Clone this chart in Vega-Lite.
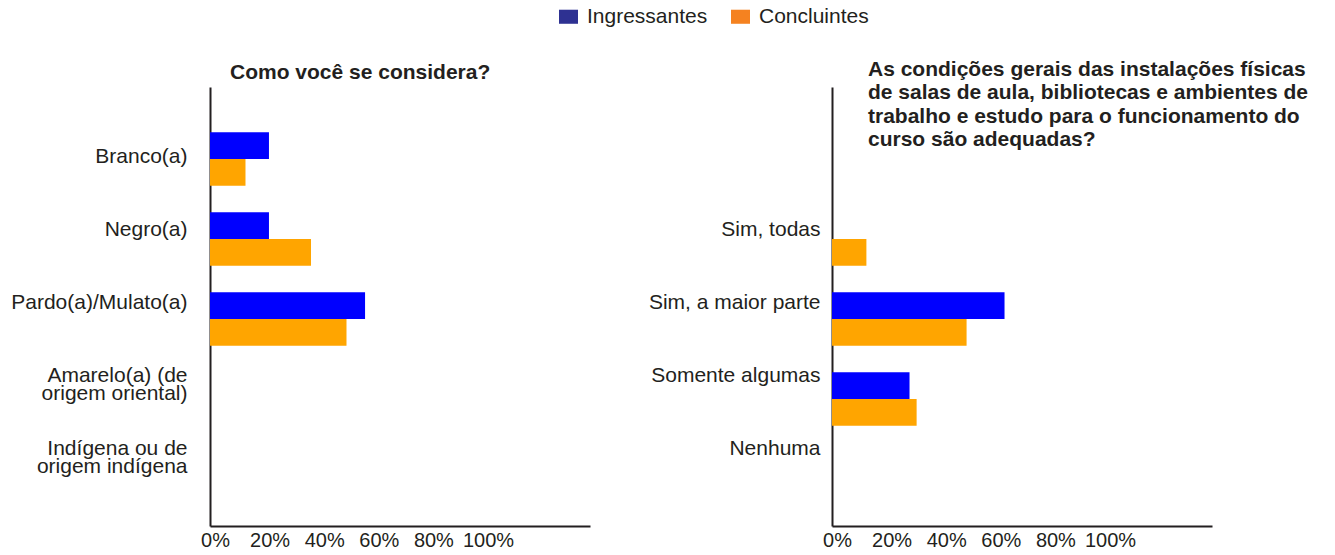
{
  "$schema": "https://vega.github.io/schema/vega-lite/v6.json",
  "background": "white",
  "padding": {"left": 10, "top": 6, "right": 5, "bottom": 2},
  "datasets": {
    "racial": [
      {"categoria": "Branco(a)", "grupo": "Ingressantes", "valor": 21.6},
      {"categoria": "Branco(a)", "grupo": "Concluintes", "valor": 13.0},
      {"categoria": "Negro(a)", "grupo": "Ingressantes", "valor": 21.6},
      {"categoria": "Negro(a)", "grupo": "Concluintes", "valor": 37.0},
      {"categoria": "Pardo(a)/Mulato(a)", "grupo": "Ingressantes", "valor": 56.8},
      {"categoria": "Pardo(a)/Mulato(a)", "grupo": "Concluintes", "valor": 50.0},
      {"categoria": "Amarelo(a) (de\norigem oriental)", "grupo": "Ingressantes", "valor": 0},
      {"categoria": "Amarelo(a) (de\norigem oriental)", "grupo": "Concluintes", "valor": 0},
      {"categoria": "Indígena ou de\norigem indígena", "grupo": "Ingressantes", "valor": 0},
      {"categoria": "Indígena ou de\norigem indígena", "grupo": "Concluintes", "valor": 0}
    ],
    "instalacoes": [
      {"categoria": "Sim, todas", "grupo": "Ingressantes", "valor": 0},
      {"categoria": "Sim, todas", "grupo": "Concluintes", "valor": 12.6},
      {"categoria": "Sim, a maior parte", "grupo": "Ingressantes", "valor": 63.2},
      {"categoria": "Sim, a maior parte", "grupo": "Concluintes", "valor": 49.3},
      {"categoria": "Somente algumas", "grupo": "Ingressantes", "valor": 28.4},
      {"categoria": "Somente algumas", "grupo": "Concluintes", "valor": 31.0},
      {"categoria": "Nenhuma", "grupo": "Ingressantes", "valor": 0},
      {"categoria": "Nenhuma", "grupo": "Concluintes", "valor": 0}
    ]
  },
  "config": {
    "font": "Liberation Sans",
    "view": {"stroke": null},
    "axis": {
      "domainColor": "#231F20",
      "domainWidth": 2,
      "ticks": false,
      "grid": false,
      "labelColor": "#231F20",
      "labelFont": "Liberation Sans",
      "title": null
    },
    "title": {
      "font": "Liberation Sans",
      "fontSize": 21,
      "fontWeight": "bold",
      "color": "#231F20",
      "anchor": "start",
      "frame": "group",
      "lineHeight": 23.3
    }
  },
  "spacing": 58,
  "hconcat": [
    {
      "width": 380,
      "height": 439,
      "data": {"name": "racial"},
      "title": {"text": "Como você se considera?", "dx": 20, "offset": 4},
      "resolve": {"scale": {"y": "independent"}, "axis": {"y": "independent"}},
      "layer": [
        {
          "mark": {"type": "bar"},
          "encoding": {
            "y": {
              "field": "categoria",
              "type": "nominal",
              "scale": {
                "domain": ["Branco(a)", "Negro(a)", "Pardo(a)/Mulato(a)", "Amarelo(a) (de\norigem oriental)", "Indígena ou de\norigem indígena"],
                "paddingInner": 0.333,
                "paddingOuter": 0.41,
                "align": 0.69
              },
              "axis": null
            },
            "x": {
              "field": "valor",
              "type": "quantitative",
              "scale": {"domain": [0, 139.2], "nice": false},
              "axis": {
                "values": [0, 20, 40, 60, 80, 100],
                "labelExpr": "datum.value + '%'",
                "labelFontSize": 20,
                "labelPadding": 4,
                "labelOffset": 5,
                "labelFlush": false
              }
            },
            "yOffset": {"field": "grupo", "type": "nominal", "sort": ["Ingressantes", "Concluintes"]},
            "color": {
              "field": "grupo",
              "type": "nominal",
              "sort": ["Ingressantes", "Concluintes"],
              "scale": {"range": ["#0000FF", "#FFA500"]},
              "legend": null
            }
          }
        },
        {
          "mark": {"type": "bar"},
          "encoding": {
            "y": {
              "field": "categoria",
              "type": "nominal",
              "scale": {
                "domain": ["Branco(a)", "Negro(a)", "Pardo(a)/Mulato(a)", "Amarelo(a) (de\norigem oriental)", "Indígena ou de\norigem indígena"],
                "paddingInner": 0,
                "paddingOuter": 0.507,
                "align": 0.453
              },
              "axis": {
                "orient": "left",
                "labelExpr": "split(datum.label, '\\n')",
                "labelFontSize": 21,
                "labelLineHeight": 18,
                "labelPadding": 23,
                "labelLimit": 400
              }
            },
            "x": {"datum": 0, "type": "quantitative"},
            "fill": {
              "field": "grupo",
              "type": "nominal",
              "scale": {"domain": ["Ingressantes", "Concluintes"], "range": ["#2E3192", "#F58220"]},
              "legend": {
                "orient": "none",
                "direction": "horizontal",
                "legendX": 348,
                "legendY": -81,
                "title": null,
                "labelFontSize": 21,
                "labelColor": "#231F20",
                "labelFont": "Liberation Sans",
                "labelOffset": 8,
                "columnPadding": 22,
                "symbolType": "M-1,-0.74H1V0.74H-1Z",
                "symbolSize": 361,
                "symbolStrokeWidth": 0,
                "symbolOpacity": 1
              }
            }
          }
        }
      ]
    },
    {
      "width": 380,
      "height": 439,
      "data": {"name": "instalacoes"},
      "title": {
        "text": ["As condições gerais das instalações físicas", "de salas de aula, bibliotecas e ambientes de", "trabalho e estudo para o funcionamento do", "curso são adequadas?"],
        "dx": 36,
        "offset": -63
      },
      "resolve": {"scale": {"y": "independent"}, "axis": {"y": "independent"}},
      "layer": [
        {
          "mark": {"type": "bar"},
          "encoding": {
            "y": {
              "field": "categoria",
              "type": "nominal",
              "scale": {
                "domain": [" ", "Sim, todas", "Sim, a maior parte", "Somente algumas", "Nenhuma"],
                "paddingInner": 0.333,
                "paddingOuter": 0.41,
                "align": 0.69
              },
              "axis": null
            },
            "x": {
              "field": "valor",
              "type": "quantitative",
              "scale": {"domain": [0, 139.2], "nice": false},
              "axis": {
                "values": [0, 20, 40, 60, 80, 100],
                "labelExpr": "datum.value + '%'",
                "labelFontSize": 20,
                "labelPadding": 4,
                "labelOffset": 5,
                "labelFlush": false
              }
            },
            "yOffset": {"field": "grupo", "type": "nominal", "sort": ["Ingressantes", "Concluintes"]},
            "color": {
              "field": "grupo",
              "type": "nominal",
              "sort": ["Ingressantes", "Concluintes"],
              "scale": {"range": ["#0000FF", "#FFA500"]},
              "legend": null
            }
          }
        },
        {
          "mark": {"type": "bar"},
          "encoding": {
            "y": {
              "field": "categoria",
              "type": "nominal",
              "scale": {
                "domain": [" ", "Sim, todas", "Sim, a maior parte", "Somente algumas", "Nenhuma"],
                "paddingInner": 0,
                "paddingOuter": 0.507,
                "align": 0.453
              },
              "axis": {
                "orient": "left",
                "labelFontSize": 21,
                "labelPadding": 12,
                "labelLimit": 400
              }
            },
            "x": {"datum": 0, "type": "quantitative"}
          }
        }
      ]
    }
  ]
}
